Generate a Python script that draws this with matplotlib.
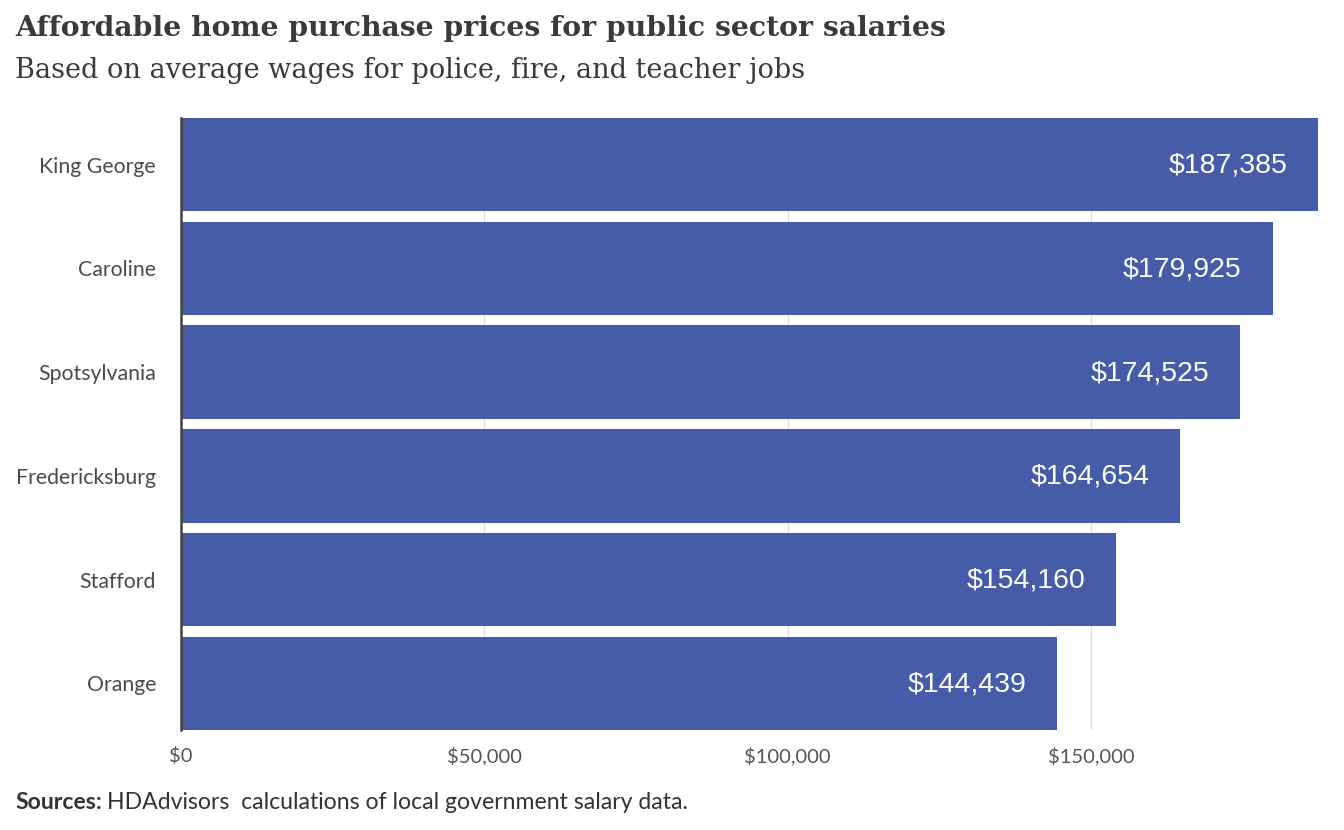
import numpy as np
import matplotlib.pyplot as plt
from matplotlib.ticker import FuncFormatter

# [Data]______________________________________________________________
counties = ["King George", "Caroline", "Spotsylvania", "Fredericksburg", "Stafford", "Orange"]
prices = [187385, 179925, 174525, 164654, 154160, 144439]
x_ticks = [0, 50000, 100000, 150000]

bar_color = "#465CA9"

# [Plot]______________________________________________________________
fig = plt.figure(figsize=(13.44, 8.3), dpi=100)
ax = fig.add_axes([181 / 1344, 100 / 830, (1318 - 181) / 1344, (730 - 100 - 18) / 830])

y = np.arange(len(counties))
ax.barh(y, prices, height=0.9, color=bar_color, zorder=2)

for yi, p in zip(y, prices):
  ax.text(p - 5.1e3, yi + 0.01, f"${p:,}", ha="right", va="center", color="white",
          fontsize=20.5, family="Liberation Sans", zorder=3)

ax.set_ylim(len(counties) - 0.55, -0.45)
ax.set_xlim(0, max(prices))
ax.set_yticks(y)
ax.set_yticklabels(counties, fontsize=15.3, family="Lato", color="#4a4a4a")
ax.set_xticks(x_ticks)
ax.xaxis.set_major_formatter(FuncFormatter(lambda v, _: f"${v:,.0f}"))
for lab in ax.get_xticklabels():
  lab.set_fontsize(14.5)
  lab.set_family("Lato")
  lab.set_color("#555555")

ax.tick_params(axis="y", length=0, pad=18)
ax.tick_params(axis="x", length=0, pad=12)
ax.grid(axis="x", color="#dddddd", linewidth=1, zorder=0)
for s in ["top", "right", "bottom"]:
  ax.spines[s].set_visible(False)
ax.spines["left"].set_color("#444444")
ax.spines["left"].set_linewidth(1.8)
ax.spines["left"].set_zorder(4)

fig.text(15 / 1344, 1 - 28 / 830, "Affordable home purchase prices for public sector salaries",
         fontsize=20.3, fontweight="bold", family="DejaVu Serif", color="#3a3a3a", va="center")
fig.text(15 / 1344, 1 - 71 / 830, "Based on average wages for police, fire, and teacher jobs",
         fontsize=19.5, family="DejaVu Serif", color="#3a3a3a", va="center")

src = fig.text(15 / 1344, 1 - 802 / 830, "Sources:", fontsize=16.6, fontweight="bold",
               family="Lato", color="#333333", va="center")
fig.canvas.draw()
bb = src.get_window_extent()
fig.text((bb.x1 + 5) / 1344, 1 - 802 / 830, "HDAdvisors  calculations of local government salary data.",
         fontsize=16.6, family="Lato", color="#333333", va="center")

plt.savefig("out.png", dpi=100)
